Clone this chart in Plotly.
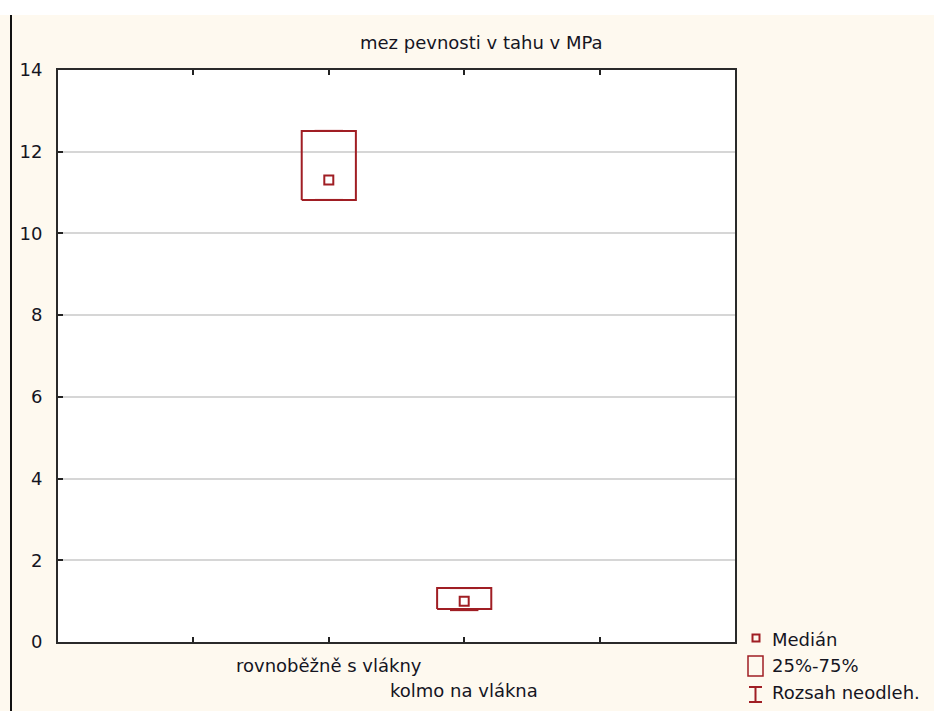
import plotly.graph_objects as go

# --- data -------------------------------------------------------------
categories = ["rovnoběžně s vlákny", "kolmo na vlákna"]
positions = [2, 3]
medians = [11.31, 1.00]
q1 = [10.82, 0.81]
q3 = [12.51, 1.32]
range_low = [10.82, 0.78]
range_high = [12.51, 1.32]
y_ticks = [0, 2, 4, 6, 8, 10, 12, 14]
x_ticks = [1, 2, 3, 4]
title_text = "mez pevnosti v tahu v MPa"
legend_labels = ["Medián", "25%-75%", "Rozsah neodleh."]

# --- styling ----------------------------------------------------------
W, H = 934, 711
ML, MR, MT, MB = 58, 199, 70, 69
RED = "#A01E24"
TXT = "#15151f"
CREAM = "#FEF9EF"
FONT = "DejaVu Sans"
BOX_HALF = 0.2
CAP_HALF = 0.105

pw = W - ML - MR
ph = H - MT - MB


def px(x):
    return (x - ML) / pw


def py(y):
    return (H - MB - y) / ph


fig = go.Figure()

for i, c in enumerate(positions):
    # interquartile box
    fig.add_trace(go.Scatter(
        x=[c - BOX_HALF, c + BOX_HALF, c + BOX_HALF, c - BOX_HALF, c - BOX_HALF],
        y=[q1[i], q1[i], q3[i], q3[i], q1[i]],
        mode="lines", line=dict(color=RED, width=2),
        showlegend=False, hoverinfo="skip"))
    # non-outlier range: stems and caps
    fig.add_trace(go.Scatter(
        x=[c, c, None, c, c],
        y=[q1[i], range_low[i], None, q3[i], range_high[i]],
        mode="lines", line=dict(color=RED, width=2),
        showlegend=False, hoverinfo="skip"))
    fig.add_trace(go.Scatter(
        x=[c - CAP_HALF, c + CAP_HALF, None, c - CAP_HALF, c + CAP_HALF],
        y=[range_low[i], range_low[i], None, range_high[i], range_high[i]],
        mode="lines", line=dict(color=RED, width=2),
        showlegend=False, hoverinfo="skip"))
    # median
    fig.add_trace(go.Scatter(
        x=[c], y=[medians[i]], mode="markers",
        marker=dict(symbol="square-open", size=9, color=RED,
                    line=dict(color=RED, width=2)),
        showlegend=False, hoverinfo="skip"))

shapes = [
    # white strip across the top edge
    dict(type="rect", xref="paper", yref="paper", x0=px(0), x1=px(W),
         y0=py(0), y1=py(15), fillcolor="white", line=dict(width=0),
         layer="below"),
    # dark rule down the left edge
    dict(type="line", xref="paper", yref="paper", x0=px(11), x1=px(11),
         y0=py(15), y1=py(H), line=dict(color="#111111", width=2)),
    # legend keys
    dict(type="rect", xref="paper", yref="paper", x0=px(752.5), x1=px(759.5),
         y0=py(641.5), y1=py(634.5), line=dict(color=RED, width=2)),
    dict(type="rect", xref="paper", yref="paper", x0=px(748), x1=px(763),
         y0=py(676), y1=py(656), line=dict(color=RED, width=1.5)),
    dict(type="line", xref="paper", yref="paper", x0=px(755.5), x1=px(755.5),
         y0=py(702), y1=py(687), line=dict(color=RED, width=2)),
    dict(type="line", xref="paper", yref="paper", x0=px(749), x1=px(762),
         y0=py(687), y1=py(687), line=dict(color=RED, width=2)),
    dict(type="line", xref="paper", yref="paper", x0=px(749), x1=px(762),
         y0=py(702), y1=py(702), line=dict(color=RED, width=2)),
]

annotations = [
    dict(text=title_text, xref="paper", yref="paper", x=px(482), y=py(43),
         showarrow=False, xanchor="center", yanchor="middle",
         font=dict(family=FONT, size=18, color=TXT)),
]
label_rows = [665, 690]
for i, c in enumerate(positions):
    annotations.append(dict(
        text=categories[i], xref="x", yref="paper", x=c, y=py(label_rows[i]),
        showarrow=False, xanchor="center", yanchor="middle",
        font=dict(family=FONT, size=18, color=TXT)))
legend_rows = [639, 665, 692]
for lab, row in zip(legend_labels, legend_rows):
    annotations.append(dict(
        text=lab, xref="paper", yref="paper", x=px(770), y=py(row),
        showarrow=False, xanchor="left", yanchor="middle",
        font=dict(family=FONT, size=18, color=TXT)))

fig.update_layout(
    width=W, height=H,
    margin=dict(l=ML, r=MR, t=MT, b=MB, pad=0),
    paper_bgcolor=CREAM, plot_bgcolor="white",
    font=dict(family=FONT, size=18, color=TXT),
    showlegend=False,
    shapes=shapes, annotations=annotations,
    xaxis=dict(range=[0, 5], tickvals=x_ticks, ticktext=[""] * len(x_ticks),
               ticks="inside", ticklen=5, tickwidth=2, tickcolor="#222",
               showgrid=False, zeroline=False, showline=True,
               linecolor="#2a2a2a", linewidth=2, mirror="ticks",
               fixedrange=True),
    yaxis=dict(range=[0, 14], tickvals=y_ticks, ticks="inside", ticklen=5,
               tickwidth=2, tickcolor="#222", showgrid=True,
               gridcolor="#d6d6d6", gridwidth=2, zeroline=False,
               showline=True, linecolor="#2a2a2a", linewidth=2, mirror=True,
               ticklabelstandoff=10, tickfont=dict(family=FONT, size=18,
                                                     color=TXT),
               fixedrange=True),
)

fig.write_html("out.html")
